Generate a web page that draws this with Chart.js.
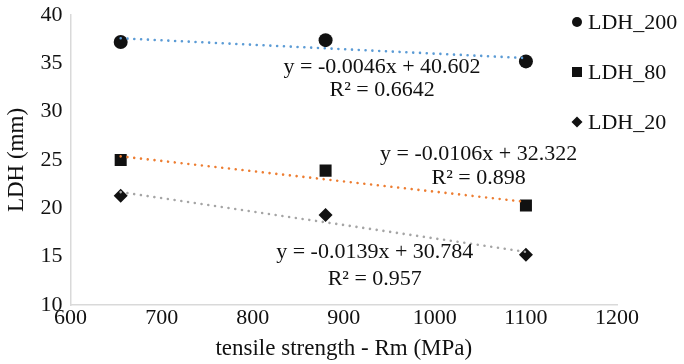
<!DOCTYPE html>
<html>
<head>
<meta charset="utf-8">
<script src="https://cdn.jsdelivr.net/npm/chart.js@4/dist/chart.umd.min.js"></script>
<style>
  body { margin: 0; background: #fff; }
  #wrap { width: 684px; height: 364px; }
</style>
</head>
<body>
<div id="wrap"><canvas id="chart" width="684" height="364"></canvas></div>
<script>
// --- DATA --- //
const strength = [655, 880, 1100];
const ldh200 = [37.2, 37.4, 35.2];
const ldh80 = [25.0, 23.9, 20.3];
const ldh20 = [21.3, 19.3, 15.2];

// trendline coefficients as printed on the chart
const slopes = [-0.0046, -0.0106, -0.0139];
const intercepts = [40.602, 32.322, 30.784];
const rSquared = ['0.6642', '0.898', '0.957'];

const seriesNames = ['LDH_200', 'LDH_80', 'LDH_20'];
const xTicks = [600, 700, 800, 900, 1000, 1100, 1200];
const yTicks = [10, 15, 20, 25, 30, 35, 40];

const FONT = "'Liberation Serif', 'Times New Roman', serif";
const INK = '#111';
const trendColors = ['#5B9BD5', '#ED7D31', '#A5A5A5'];
const markers = ['circle', 'rect', 'rectRot'];
const markerSize = [7, 8.5, 7];

const toPoints = ys => strength.map((x, i) => ({ x: x, y: ys[i] }));
const trendPoints = i => [strength[0], strength[strength.length - 1]].map(x => ({
  x: x,
  y: slopes[i] * x + intercepts[i]
}));

const scatterSets = [ldh200, ldh80, ldh20].map((ys, i) => ({
  label: seriesNames[i],
  data: toPoints(ys),
  pointStyle: markers[i],
  pointRadius: markerSize[i],
  pointHoverRadius: markerSize[i],
  backgroundColor: INK,
  borderColor: INK,
  borderWidth: 0,
  showLine: false,
  order: 1
}));

const trendSets = trendColors.map((c, i) => ({
  label: 'trend ' + seriesNames[i],
  data: trendPoints(i),
  showLine: true,
  borderColor: c,
  borderWidth: 2.6,
  borderDash: [0.01, 6.8],
  borderCapStyle: 'round',
  pointRadius: 0,
  pointHoverRadius: 0,
  fill: false,
  order: 0
}));

// --- EQUATION LABELS (anchored in data units) --- //
const eqLabels = [
  { x: 942, y: 34.6, r: 32.2 },
  { x: 1048, y: 25.6, r: 23.1 },
  { x: 934, y: 15.5, r: 12.7 }
];

const equationPlugin = {
  id: 'equations',
  afterDatasetsDraw(chart) {
    const { ctx, scales } = chart;
    ctx.save();
    ctx.fillStyle = INK;
    ctx.font = '22px ' + FONT;
    ctx.textAlign = 'center';
    ctx.textBaseline = 'middle';
    eqLabels.forEach((lab, i) => {
      const px = scales.x.getPixelForValue(lab.x);
      const sign = intercepts[i] >= 0 ? '+' : '-';
      const eq = 'y = ' + slopes[i].toFixed(4) + 'x ' + sign + ' ' + Math.abs(intercepts[i]).toFixed(3);
      ctx.fillText(eq, px, scales.y.getPixelForValue(lab.y));
      ctx.fillText('R\u00B2 = ' + rSquared[i], px, scales.y.getPixelForValue(lab.r));
    });
    ctx.restore();
  }
};

// --- SIDE LEGEND --- //
const sideLegend = {
  id: 'sideLegend',
  afterDraw(chart) {
    const { ctx, chartArea } = chart;
    const mx = chartArea.right - 40;
    const rowGap = 50;
    ctx.save();
    ctx.fillStyle = INK;
    ctx.font = '22px ' + FONT;
    ctx.textAlign = 'left';
    ctx.textBaseline = 'middle';
    seriesNames.forEach((name, i) => {
      const my = 22 + i * rowGap;
      ctx.beginPath();
      if (markers[i] === 'circle') {
        ctx.arc(mx, my, 5, 0, Math.PI * 2);
      } else if (markers[i] === 'rect') {
        ctx.rect(mx - 5, my - 5, 10, 10);
      } else {
        ctx.moveTo(mx, my - 5.5);
        ctx.lineTo(mx + 5.5, my);
        ctx.lineTo(mx, my + 5.5);
        ctx.lineTo(mx - 5.5, my);
        ctx.closePath();
      }
      ctx.fill();
      ctx.fillText(name, mx + 11, my + 1);
    });
    ctx.restore();
  }
};

// --- CHART --- //
const chart = new Chart(document.getElementById('chart'), {
  type: 'scatter',
  data: { datasets: scatterSets.concat(trendSets) },
  plugins: [equationPlugin, sideLegend],
  options: {
    responsive: false,
    animation: false,
    layout: { padding: { top: 0, right: 67, bottom: 1, left: 3 } },
    scales: {
      x: {
        type: 'linear',
        min: 600,
        max: 1200,
        afterBuildTicks: axis => { axis.ticks = xTicks.map(v => ({ value: v })); },
        grid: { display: false, drawTicks: false },
        border: { display: true, color: '#D9D9D9', width: 1.5 },
        ticks: {
          color: INK,
          font: { family: FONT, size: 22 },
          padding: 0,
          callback: v => String(v)
        },
        title: {
          display: true,
          text: 'tensile strength - Rm (MPa)',
          color: INK,
          font: { family: FONT, size: 23 },
          padding: { top: 4, bottom: 0 }
        }
      },
      y: {
        min: 10,
        max: 40,
        afterBuildTicks: axis => { axis.ticks = yTicks.map(v => ({ value: v })); },
        afterFit: axis => { axis.paddingTop = 15; },
        grid: { display: false, drawTicks: false },
        border: { display: true, color: '#D9D9D9', width: 1.5 },
        ticks: {
          color: INK,
          font: { family: FONT, size: 22 },
          padding: 8,
          callback: v => String(v)
        },
        title: {
          display: true,
          text: 'LDH (mm)',
          color: INK,
          font: { family: FONT, size: 23 },
          padding: { top: 0, bottom: 2 }
        }
      }
    },
    plugins: {
      legend: { display: false },
      tooltip: { enabled: false }
    }
  }
});
</script>
</body>
</html>
